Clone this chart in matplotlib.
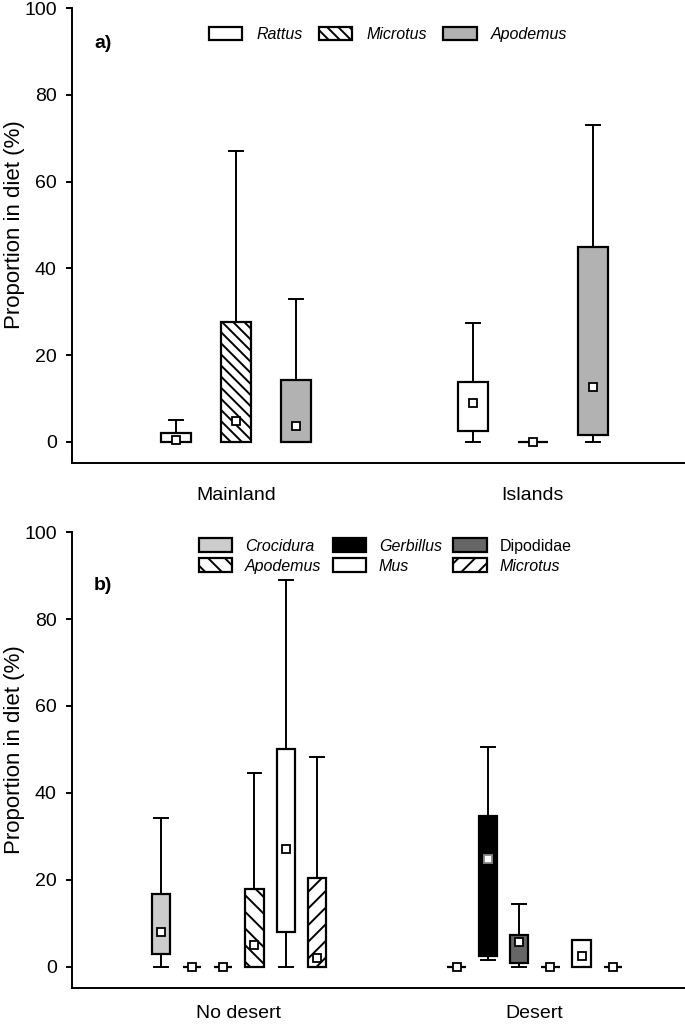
import matplotlib
matplotlib.use("Agg")
import matplotlib.pyplot as plt
import matplotlib.patches as mpatches

plt.rcParams['font.family'] = ['Liberation Sans', 'DejaVu Sans']
plt.rcParams['hatch.linewidth'] = 1.4

# ---- panel a data (rows: Mainland, Islands; cols: Rattus, Microtus, Apodemus)
groups_a = ['Mainland', 'Islands']
species_a = ['Rattus', 'Microtus', 'Apodemus']
a_lo = [[0, 0, 0], [0, 0, 0]]
a_q1 = [[0, 0, 0], [2.5, 0, 1.5]]
a_q3 = [[2.0, 27.5, 14.2], [13.8, 0, 44.8]]
a_hi = [[5.0, 67.0, 33.0], [27.3, 0, 73.0]]
a_mean = [[0.5, 4.7, 3.6], [9.0, 0, 12.6]]

# ---- panel b data (rows: No desert, Desert)
groups_b = ['No desert', 'Desert']
species_b = ['Crocidura', 'Gerbillus', 'Dipodidae', 'Apodemus', 'Mus', 'Microtus']
b_lo = [[0, 0, 0, 0, 0, 0], [0, 1.6, 0, 0, 0, 0]]
b_q1 = [[3.0, 0, 0, 0, 8.0, 0], [0, 2.5, 0.8, 0, 0, 0]]
b_q3 = [[16.7, 0, 0, 18.0, 50.0, 20.5], [0, 34.6, 7.3, 0, 6.1, 0]]
b_hi = [[34.3, 0, 0, 44.5, 89.0, 48.3], [0, 50.5, 14.5, 0, 6.1, 0]]
b_mean = [[8.0, 0, 0, 5.0, 27.0, 2.0], [0, 24.7, 5.7, 0, 2.5, 0]]

# styles
style_a = {'Rattus': dict(facecolor='white', hatch=None),
           'Microtus': dict(facecolor='white', hatch='\\\\\\'),
           'Apodemus': dict(facecolor='#b2b2b2', hatch=None)}
style_b = {'Crocidura': dict(facecolor='#cccccc', hatch=None),
           'Gerbillus': dict(facecolor='black', hatch=None),
           'Dipodidae': dict(facecolor='#666666', hatch=None),
           'Apodemus': dict(facecolor='white', hatch='\\\\'),
           'Mus': dict(facecolor='white', hatch=None),
           'Microtus': dict(facecolor='white', hatch='//')}
italic_b = {'Dipodidae': False}


def draw_panel(ax, groups, species, lo, q1, q3, hi, mean, styles, spacing, bwidth):
    n = len(species)
    stats, pos, names = [], [], []
    for g in range(len(groups)):
        for s in range(n):
            stats.append(dict(med=q1[g][s], q1=q1[g][s], q3=q3[g][s],
                              whislo=lo[g][s], whishi=hi[g][s], mean=mean[g][s],
                              fliers=[]))
            pos.append(g + 1 + (s - (n - 1) / 2) * spacing)
            names.append(species[s])
    art = ax.bxp(stats, positions=pos, widths=bwidth, capwidths=0.047,
                 patch_artist=True, showmeans=True, showfliers=False,
                 boxprops=dict(linewidth=1.6, edgecolor='black'),
                 whiskerprops=dict(linewidth=1.4, color='black'),
                 capprops=dict(linewidth=1.4, color='black'),
                 medianprops=dict(linewidth=0),
                 meanprops=dict(marker='s', markerfacecolor='white',
                                markeredgecolor='black', markersize=5.5,
                                markeredgewidth=1.3))
    for box, name in zip(art['boxes'], names):
        st = styles[name]
        box.set_facecolor(st['facecolor'])
        if st['hatch']:
            box.set_hatch(st['hatch'])
    for m, name, st in zip(art['means'], names, stats):
        m.set_zorder(5)
        if styles[name]['facecolor'] == 'black' and st['q3'] > st['q1']:
            m.set_markeredgecolor('#888888')
    ax.set_ylim(-4.9, 100)
    ax.set_yticks([0, 20, 40, 60, 80, 100])
    ax.set_xticks([1, 2])
    ax.set_xticklabels(groups)
    for sp in ['top', 'right']:
        ax.spines[sp].set_visible(False)
    for sp in ['left', 'bottom']:
        ax.spines[sp].set_linewidth(1.4)
    ax.tick_params(axis='y', length=4, width=1.4, labelsize=14, pad=7)
    ax.tick_params(axis='x', length=0, labelsize=14)
    ax.set_ylabel('Proportion in diet (%)', fontsize=16)
    ax.yaxis.set_label_coords(-0.077, 0.523)


fig = plt.figure(figsize=(6.85, 10.26), dpi=100)
ax1 = fig.add_axes([0.1051, 0.5487, 0.8949, 0.4435])
ax2 = fig.add_axes([0.1051, 0.0370, 0.8949, 0.4444])

draw_panel(ax1, groups_a, species_a, a_lo, a_q1, a_q3, a_hi, a_mean, style_a, 0.202, 0.101)
ax1.set_xlim(0.448, 2.512)
ax1.tick_params(axis='x', pad=17)

draw_panel(ax2, groups_b, species_b, b_lo, b_q1, b_q3, b_hi, b_mean, style_b, 0.1057, 0.062)
ax2.set_xlim(0.436, 2.508)
ax2.tick_params(axis='x', pad=12)

fig.text(103 / 685, 1 - 43 / 1026, 'a)', fontsize=14, fontweight='bold', ha='center', va='center')
fig.text(103 / 685, 1 - 586 / 1026, 'b)', fontsize=14, fontweight='bold', ha='center', va='center')

# legends
def handle(st):
    return mpatches.Patch(facecolor=st['facecolor'], edgecolor='black',
                          hatch=st['hatch'], linewidth=1.6)

h_a = [handle(style_a[s]) for s in species_a]
leg_a = ax1.legend(h_a, species_a, loc='center', ncol=3, frameon=False,
                   bbox_to_anchor=(388 / 685, 1 - 34.5 / 1026), bbox_transform=fig.transFigure,
                   fontsize=11.5, handlelength=2.1, handleheight=0.9,
                   handletextpad=0.9, columnspacing=1.0, borderpad=0)
for t in leg_a.get_texts():
    t.set_fontstyle('italic')

order_b = ['Crocidura', 'Apodemus', 'Gerbillus', 'Mus', 'Dipodidae', 'Microtus']
h_b = [handle(style_b[s]) for s in order_b]
leg_b = ax2.legend(h_b, order_b, loc='center', ncol=3, frameon=False,
                   bbox_to_anchor=(385 / 685, 1 - 556 / 1026), bbox_transform=fig.transFigure,
                   fontsize=11.5, handlelength=2.1, handleheight=0.9,
                   handletextpad=0.8, columnspacing=0.7, labelspacing=0.3, borderpad=0)
for t, s in zip(leg_b.get_texts(), order_b):
    if italic_b.get(s, True):
        t.set_fontstyle('italic')

fig.savefig('out.png', dpi=100)
